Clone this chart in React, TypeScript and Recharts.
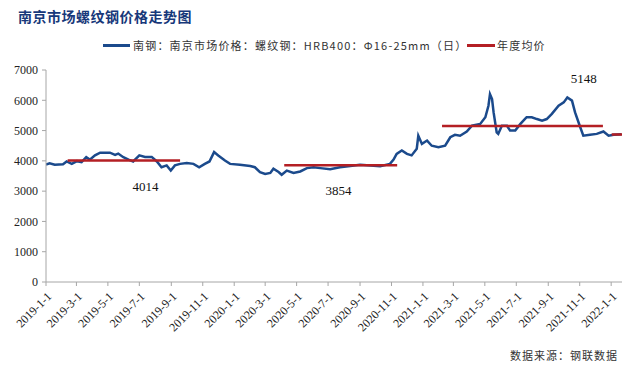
import React from 'react';
import {
  LineChart,
  Line,
  XAxis,
  YAxis,
  ReferenceDot,
} from 'recharts';

// 南京市场螺纹钢 HRB400 Φ16-25mm 日价
const priceDates = [
  '2019-01-01', '2019-01-08', '2019-01-18', '2019-02-03', '2019-02-10', '2019-02-20',
  '2019-03-02', '2019-03-11', '2019-03-20', '2019-03-27', '2019-04-06', '2019-04-16',
  '2019-05-05', '2019-05-15', '2019-05-21', '2019-05-31', '2019-06-10', '2019-06-19',
  '2019-07-01', '2019-07-12', '2019-07-25', '2019-08-04', '2019-08-13', '2019-08-23',
  '2019-08-31', '2019-09-08', '2019-09-18', '2019-10-01', '2019-10-14', '2019-10-25',
  '2019-11-05', '2019-11-14', '2019-11-23', '2019-12-01', '2019-12-14', '2019-12-24',
  '2020-01-12', '2020-02-01', '2020-02-10', '2020-02-20', '2020-03-01', '2020-03-11',
  '2020-03-17', '2020-03-27', '2020-04-02', '2020-04-12', '2020-04-25', '2020-05-08',
  '2020-05-21', '2020-06-03', '2020-06-16', '2020-07-05', '2020-07-24', '2020-08-13',
  '2020-09-01', '2020-09-21', '2020-10-10', '2020-10-29', '2020-11-05', '2020-11-11',
  '2020-11-21', '2020-12-01', '2020-12-10', '2020-12-20', '2020-12-23', '2020-12-30',
  '2021-01-09', '2021-01-18', '2021-01-31', '2021-02-13', '2021-02-23', '2021-03-04',
  '2021-03-14', '2021-03-27', '2021-04-06', '2021-04-22', '2021-05-02', '2021-05-08',
  '2021-05-11', '2021-05-15', '2021-05-18', '2021-05-24', '2021-05-27', '2021-06-03',
  '2021-06-13', '2021-06-19', '2021-06-29', '2021-07-09', '2021-07-21', '2021-07-31',
  '2021-08-10', '2021-08-20', '2021-08-29', '2021-09-08', '2021-09-21', '2021-10-01',
  '2021-10-08', '2021-10-17', '2021-10-23', '2021-11-01', '2021-11-08', '2021-11-21',
  '2021-12-04', '2021-12-17', '2021-12-27', '2022-01-06', '2022-01-21',
];

const priceValues = [
  3880, 3920, 3870, 3890, 3980, 3900,
  3990, 3960, 4120, 4040, 4180, 4270,
  4270, 4200, 4240, 4120, 4040, 3980,
  4180, 4130, 4130, 3980, 3790, 3850,
  3680, 3850, 3900, 3930, 3900, 3790,
  3900, 3980, 4290, 4180, 4010, 3900,
  3870, 3830, 3790, 3630, 3570, 3600,
  3740, 3630, 3540, 3680, 3600, 3650,
  3760, 3790, 3760, 3720, 3790, 3830,
  3870, 3850, 3820, 3900, 4040, 4230,
  4340, 4230, 4180, 4400, 4830, 4560,
  4670, 4500, 4450, 4500, 4780, 4860,
  4830, 4970, 5160, 5220, 5440, 5820,
  6200, 6040, 5600, 4940, 4890, 5160,
  5160, 5000, 5000, 5220, 5440, 5440,
  5380, 5330, 5380, 5550, 5820, 5930,
  6090, 5990, 5600, 5160, 4830, 4860,
  4890, 4970, 4830, 4860, 4880,
];

// 年度均价
const avgYears = ['2019', '2020', '2021', '2022'];
const avgFrom = ['2019-02-12', '2020-04-07', '2021-02-07', '2022-01-02'];
const avgTo = ['2019-09-18', '2020-11-12', '2021-12-16', '2022-01-22'];
const avgValues = [4014, 3854, 5148, 4870];

const xTickDates = [
  '2019-1-1', '2019-3-1', '2019-5-1', '2019-7-1', '2019-9-1', '2019-11-1',
  '2020-1-1', '2020-3-1', '2020-5-1', '2020-7-1', '2020-9-1', '2020-11-1',
  '2021-1-1', '2021-3-1', '2021-5-1', '2021-7-1', '2021-9-1', '2021-11-1',
  '2022-1-1',
];
const yTicks = [0, 1000, 2000, 3000, 4000, 5000, 6000, 7000];

const toTime = (s: string) => {
  const [y, m, d] = s.split('-').map(Number);
  return Date.UTC(y, m - 1, d);
};

const fmtDate = (t: number) => {
  const d = new Date(t);
  return `${d.getUTCFullYear()}-${d.getUTCMonth() + 1}-${d.getUTCDate()}`;
};

const DAY = 86400000;

const priceData = priceDates.map((d, i) => ({ t: toTime(d), price: priceValues[i] }));

// one series for all yearly segments, broken by null points
const avgData: { t: number; avg: number | null }[] = [];
avgYears.forEach((_, i) => {
  avgData.push({ t: toTime(avgFrom[i]), avg: avgValues[i] });
  avgData.push({ t: toTime(avgTo[i]), avg: avgValues[i] });
  avgData.push({ t: toTime(avgTo[i]) + DAY, avg: null });
});

const BLUE = '#1b4a8c';
const RED = '#b41f24';
const SERIF = '"Liberation Serif", "Times New Roman", serif';
const CJK = '"Noto Sans CJK SC", sans-serif';

const XTick = (props: any) => {
  const { x, y, payload } = props;
  return (
    <g transform={`translate(${x + 2},${y + 5})`}>
      <text
        x={0}
        y={0}
        dy={6}
        transform="rotate(-45)"
        textAnchor="end"
        fontFamily={SERIF}
        fontSize={12}
        fill="#222"
      >
        {fmtDate(payload.value)}
      </text>
    </g>
  );
};

const App = () => {
  const domain = [toTime('2019-01-01'), toTime('2022-01-22')];
  return (
    <div
      style={{
        position: 'absolute',
        left: 0,
        top: 0,
        width: 634,
        height: 373,
        background: '#fff',
        overflow: 'hidden',
      }}
    >
      <div
        style={{
          position: 'absolute',
          left: 18,
          top: 6,
          fontFamily: CJK,
          fontWeight: 700,
          fontSize: 14,
          color: '#17387a',
          letterSpacing: 0.5,
        }}
      >
        南京市场螺纹钢价格走势图
      </div>

      {/* legend */}
      <div style={{ position: 'absolute', left: 103, top: 44, width: 27, height: 3, background: BLUE }} />
      <div
        style={{
          position: 'absolute',
          left: 133,
          top: 37,
          fontFamily: CJK,
          fontSize: 11,
          color: '#333',
          whiteSpace: 'nowrap',
          letterSpacing: 1.2,
        }}
      >
        南钢：南京市场价格：螺纹钢：HRB400：Φ16-25mm（日）
      </div>
      <div style={{ position: 'absolute', left: 467, top: 44, width: 28, height: 3, background: RED }} />
      <div
        style={{
          position: 'absolute',
          left: 497,
          top: 37,
          fontFamily: CJK,
          fontSize: 11,
          color: '#333',
          whiteSpace: 'nowrap',
          letterSpacing: 1.2,
        }}
      >
        年度均价
      </div>

      <div style={{ position: 'absolute', left: 0, top: 0 }}>
        <LineChart
          width={634}
          height={373}
          margin={{ top: 70, right: 12, bottom: 31, left: 0 }}
        >
          <XAxis
            dataKey="t"
            type="number"
            scale="time"
            domain={domain}
            ticks={xTickDates.map(toTime)}
            allowDataOverflow
            tick={<XTick />}
            tickLine={{ stroke: '#a6a6a6' }}
            axisLine={{ stroke: '#a6a6a6' }}
            tickSize={4}
            height={60}
            interval={0}
          />
          <YAxis
            type="number"
            domain={[0, 7000]}
            ticks={yTicks}
            width={46}
            tickSize={4}
            tickMargin={4}
            tick={{ fontFamily: SERIF, fontSize: 12, fill: '#222' }}
            tickLine={{ stroke: '#a6a6a6' }}
            axisLine={{ stroke: '#a6a6a6' }}
          />
          <Line
            data={priceData}
            dataKey="price"
            type="linear"
            stroke={BLUE}
            strokeWidth={2.5}
            dot={false}
            isAnimationActive={false}
          />
          <Line
            data={avgData}
            dataKey="avg"
            type="linear"
            stroke={RED}
            strokeWidth={2.5}
            dot={false}
            connectNulls={false}
            isAnimationActive={false}
          />
          <ReferenceDot
            x={toTime('2019-07-13')}
            y={3160}
            r={0}
            label={{ value: String(avgValues[0]), position: 'center', fontFamily: SERIF, fontSize: 13, fill: '#111' }}
          />
          <ReferenceDot
            x={toTime('2020-07-21')}
            y={3030}
            r={0}
            label={{ value: String(avgValues[1]), position: 'center', fontFamily: SERIF, fontSize: 13, fill: '#111' }}
          />
          <ReferenceDot
            x={toTime('2021-11-09')}
            y={6720}
            r={0}
            label={{ value: String(avgValues[2]), position: 'center', fontFamily: SERIF, fontSize: 13, fill: '#111' }}
          />
        </LineChart>
      </div>

      <div
        style={{
          position: 'absolute',
          left: 510,
          top: 347,
          fontFamily: CJK,
          fontSize: 11,
          color: '#333',
          whiteSpace: 'nowrap',
          letterSpacing: 1,
        }}
      >
        数据来源：钢联数据
      </div>
    </div>
  );
};

export default App;
